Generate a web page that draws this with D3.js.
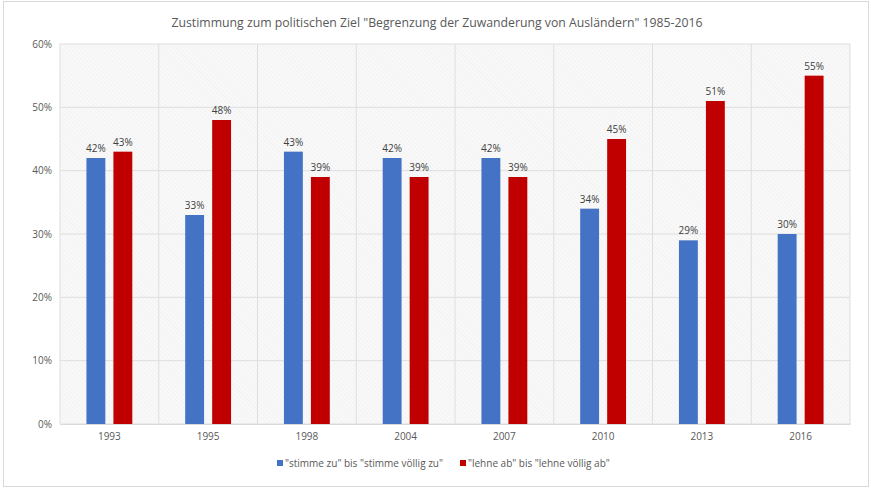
<!DOCTYPE html>
<html><head><meta charset="utf-8">
<script src="https://cdn.jsdelivr.net/npm/d3@7"></script>
<style>body{margin:0;background:#fff}svg{display:block}</style>
</head><body>
<svg id="c" width="871" height="488"></svg>
<script>
const title = 'Zustimmung zum politischen Ziel "Begrenzung der Zuwanderung von Ausländern" 1985-2016';
const years = ["1993","1995","1998","2004","2007","2010","2013","2016"];
const agree = [42,33,43,42,42,34,29,30];
const reject = [43,48,39,39,39,45,51,55];
const seriesNames = ['"stimme zu" bis "stimme völlig zu"', '"lehne ab" bis "lehne völlig ab"'];
const seriesColors = ["#4472C4","#C00000"];
const yTicks = [0,10,20,30,40,50,60];

const svg = d3.select("#c");
const font = "Open Sans, sans-serif";
const textCol = "#595959";
const m = {l:60, r:21, t:44, b:64};
const W = 871, H = 488;

// border
svg.append("rect").attr("x",3.5).attr("y",1.5).attr("width",W-6).attr("height",H-3)
  .attr("fill","#fff").attr("stroke","#d9d9d9");

const defs = svg.append("defs");
const pat = defs.append("pattern").attr("id","hatch").attr("patternUnits","userSpaceOnUse")
  .attr("width",3).attr("height",3).attr("patternTransform","rotate(-45)");
pat.append("rect").attr("width",3).attr("height",3).attr("fill","#f9f9f9");
pat.append("line").attr("x1",0).attr("y1",0).attr("x2",0).attr("y2",3).attr("stroke","#ebebeb").attr("stroke-width",1);

const x = d3.scaleBand().domain(years).range([m.l, W-m.r]).paddingInner(0).paddingOuter(0);
const y = d3.scaleLinear().domain([0,60]).range([H-m.b, m.t]);

svg.append("rect").attr("x",m.l).attr("y",m.t).attr("width",W-m.r-m.l).attr("height",H-m.b-m.t).attr("fill","url(#hatch)");

// gridlines
svg.append("g").selectAll("line").data(yTicks).join("line")
  .attr("x1",m.l).attr("x2",W-m.r).attr("y1",d=>y(d)).attr("y2",d=>y(d))
  .attr("stroke","#dedede").attr("stroke-width",1);
const bounds = years.map(d=>x(d)).concat([W-m.r]);
svg.append("g").selectAll("line").data(bounds).join("line")
  .attr("x1",d=>d).attr("x2",d=>d).attr("y1",m.t).attr("y2",H-m.b)
  .attr("stroke","#dedede").attr("stroke-width",1);

// y axis
const yAxis = d3.axisLeft(y).tickValues(yTicks).tickFormat(d=>d+"%").tickSize(0).tickPadding(8);
const ya = svg.append("g").attr("transform",`translate(${m.l},0)`).call(yAxis);
ya.select(".domain").remove();
ya.selectAll("text").attr("fill",textCol).style("font-family",font).style("font-size","10px");

// x axis
const xAxis = d3.axisBottom(x).tickSize(0).tickPadding(9);
const xa = svg.append("g").attr("transform",`translate(0,${H-m.b})`).call(xAxis);
xa.select(".domain").attr("stroke","#d9d9d9");
xa.selectAll("text").attr("fill",textCol).style("font-family",font).style("font-size","10px");

const sub = d3.scaleBand().domain([0,1]).range([0, x.bandwidth()]).paddingInner(0.3).paddingOuter(0.98);
const data = years.map((yr,i)=>({yr, vals:[agree[i], reject[i]]}));
const g = svg.append("g").selectAll("g").data(data).join("g")
  .attr("transform",d=>`translate(${x(d.yr)},0)`);
g.selectAll("rect").data(d=>d.vals.map((v,k)=>({v,k}))).join("rect")
  .attr("x",d=>sub(d.k)).attr("width",sub.bandwidth())
  .attr("y",d=>y(d.v)).attr("height",d=>y(0)-y(d.v))
  .attr("fill",d=>seriesColors[d.k]);
g.selectAll("text").data(d=>d.vals.map((v,k)=>({v,k}))).join("text")
  .attr("x",d=>sub(d.k)+sub.bandwidth()/2).attr("y",d=>y(d.v)-6)
  .attr("text-anchor","middle").attr("fill","#404040")
  .style("font-family",font).style("font-size","10px").text(d=>d.v+"%");

// title
svg.append("text").attr("x",437).attr("y",27).attr("text-anchor","middle")
  .attr("fill",textCol).style("font-family",font).style("font-size","13.5px")
  .attr("textLength",531).attr("lengthAdjust","spacingAndGlyphs").text(title);

// legend
const legX = [277, 460];
const leg = svg.append("g").selectAll("g").data(seriesNames).join("g")
  .attr("transform",(d,i)=>`translate(${legX[i]},463)`);
leg.append("rect").attr("x",0).attr("y",-3).attr("width",6).attr("height",6).attr("fill",(d,i)=>seriesColors[i]);
leg.append("text").attr("x",8).attr("y",3.5).attr("fill",textCol)
  .style("font-family",font).style("font-size","10px").text(d=>d);
</script>
</body></html>
